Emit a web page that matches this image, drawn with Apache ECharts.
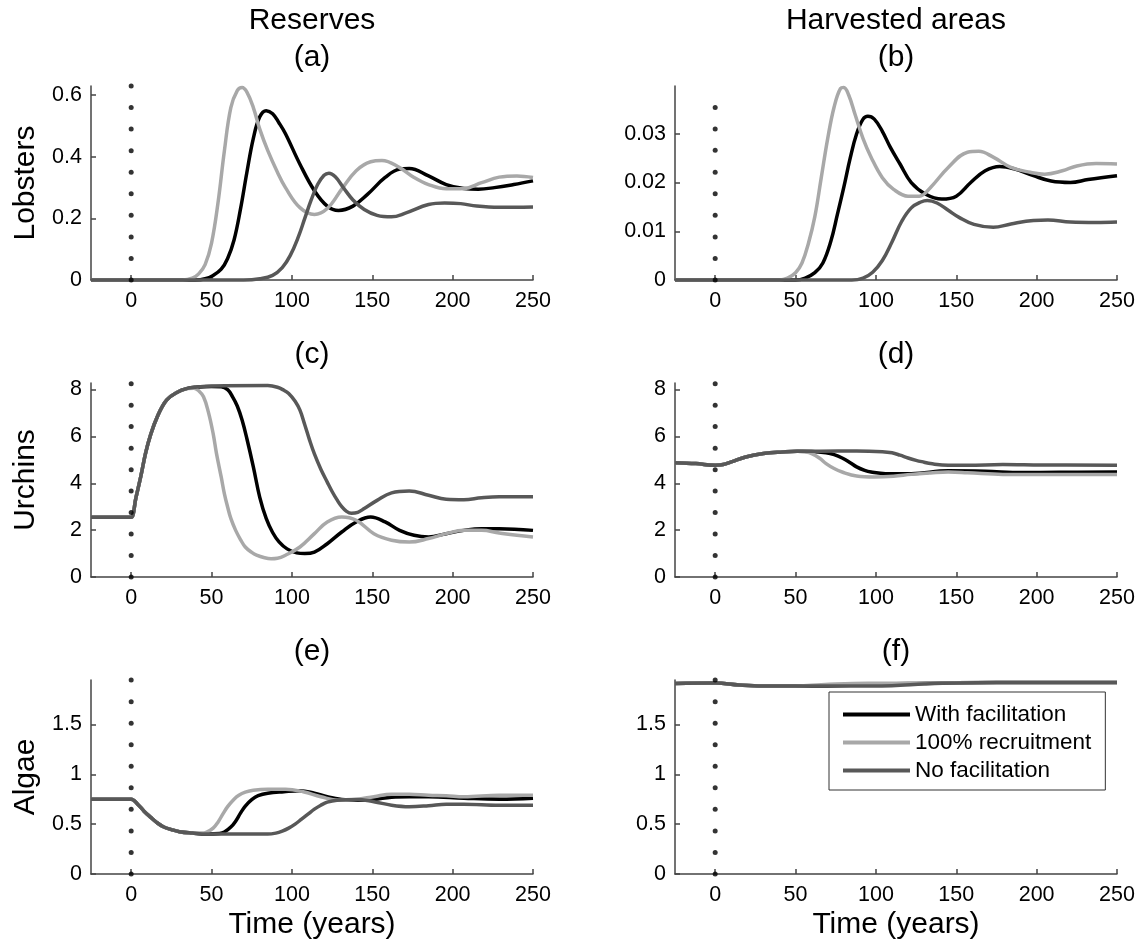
<!DOCTYPE html>
<html>
<head>
<meta charset="utf-8">
<script src="https://cdn.jsdelivr.net/npm/echarts@6/dist/echarts.min.js"></script>
<style>
html, body { margin: 0; padding: 0; background: #fff; }
#chart { width: 1140px; height: 944px; }
</style>
</head>
<body>
<div id="chart"></div>
<script>
// labels
const seriesNames = ['With facilitation', '100% recruitment', 'No facilitation'];
const columnTitles = ['Reserves', 'Harvested areas'];
const panelLabels = ['(a)', '(b)', '(c)', '(d)', '(e)', '(f)'];
const rowNames = ['Lobsters', 'Urchins', 'Algae'];

// tick labels
const xTicks = [0, 50, 100, 150, 200, 250];
const yTicksLobRes = [0, 0.2, 0.4, 0.6];
const yTicksLobHar = [0, 0.01, 0.02, 0.03];
const yTicksUrch = [0, 2, 4, 6, 8];
const yTicksAlg = [0, 0.5, 1, 1.5];

// (a) lobsters, reserves  [year, value]
const lobResWith = [[-25,0],[40,0],[46,0.004],[51,0.015],[56,0.035],[60,0.07],[64,0.13],[68,0.23],[72,0.35],[76,0.46],[80,0.53],[84,0.55],[88,0.54],[92,0.51],[96,0.475],[105,0.376],[114,0.29],[122,0.24],[129,0.226],[138,0.24],[147,0.278],[158,0.333],[167,0.36],[173,0.362],[185,0.338],[196,0.31],[207,0.297],[216,0.295],[226,0.3],[238,0.31],[250,0.322]];
const lobResFull = [[-25,0],[32,0],[38,0.006],[42,0.02],[46,0.05],[50,0.12],[54,0.25],[58,0.42],[62,0.56],[66,0.615],[69,0.625],[72,0.61],[76,0.56],[80,0.49],[85,0.42],[91,0.35],[96,0.30],[105,0.235],[114,0.213],[122,0.232],[131,0.295],[140,0.355],[149,0.384],[156,0.388],[167,0.365],[176,0.333],[185,0.31],[196,0.296],[207,0.297],[218,0.316],[229,0.334],[240,0.338],[250,0.333]];
const lobResNone = [[-25,0],[70,0],[80,0.004],[88,0.015],[94,0.04],[99,0.08],[104,0.14],[108,0.2],[112,0.26],[116,0.31],[120,0.34],[123,0.347],[127,0.335],[132,0.3],[138,0.26],[145,0.229],[153,0.21],[162,0.205],[171,0.218],[185,0.245],[195,0.25],[205,0.248],[215,0.24],[229,0.236],[250,0.237]];

// (b) lobsters, harvested areas
const lobHarWith = [[-25,0],[50,0],[56,0.0004],[62,0.0015],[67,0.0035],[72,0.008],[76,0.0134],[80,0.019],[84,0.025],[88,0.030],[92,0.033],[95,0.0336],[99,0.033],[104,0.0305],[109,0.0272],[115,0.0238],[122,0.020],[131,0.0176],[141,0.0166],[150,0.0172],[159,0.020],[168,0.0224],[177,0.0233],[186,0.0228],[198,0.0214],[209,0.0203],[221,0.020],[232,0.0206],[250,0.0214]];
const lobHarFull = [[-25,0],[40,0],[45,0.0004],[50,0.0015],[54,0.0035],[58,0.0075],[62,0.013],[66,0.021],[70,0.029],[74,0.0355],[78,0.0393],[80,0.0395],[83,0.038],[87,0.034],[92,0.029],[97,0.0252],[104,0.021],[111,0.0186],[120,0.0172],[127,0.0172],[134,0.019],[145,0.0231],[157,0.0262],[164,0.0264],[173,0.0252],[184,0.0231],[196,0.0221],[205,0.0217],[216,0.0224],[225,0.0234],[237,0.0239],[250,0.0238]];
const lobHarNone = [[-25,0],[85,0],[92,0.0004],[98,0.0016],[104,0.004],[110,0.0078],[116,0.012],[122,0.0148],[128,0.016],[132,0.0163],[138,0.0158],[145,0.0143],[152,0.0128],[161,0.0114],[173,0.0108],[184,0.0115],[198,0.0122],[207,0.0123],[221,0.0119],[237,0.0118],[250,0.0119]];

// (c) urchins, reserves
const urchResWith = [[-25,2.55],[-2,2.55],[0,2.55],[3,3.4],[6,4.3],[9,5.3],[12,6.05],[16,6.8],[22,7.55],[29,7.9],[35,8.05],[40,8.1],[50,8.13],[56,8.12],[60,8.0],[63,7.7],[66,7.3],[69,6.7],[72,5.9],[76,4.7],[80,3.4],[84,2.5],[88,1.9],[92,1.5],[97,1.2],[103,1.03],[108,1.0],[114,1.06],[122,1.42],[131,1.92],[140,2.35],[149,2.56],[158,2.35],[167,1.99],[176,1.78],[185,1.71],[196,1.85],[207,1.99],[218,2.06],[229,2.06],[250,1.99]];
const urchResFull = [[-25,2.55],[-2,2.55],[0,2.55],[3,3.4],[6,4.3],[9,5.3],[12,6.05],[16,6.8],[22,7.55],[29,7.9],[35,8.04],[39,8.06],[42,7.95],[45,7.69],[48,7.05],[51,6.12],[53,5.3],[56,4.27],[58,3.55],[60,2.99],[62,2.5],[65,1.99],[68,1.6],[71,1.28],[75,1.05],[78,0.93],[83,0.82],[87,0.78],[91,0.8],[96,0.93],[105,1.28],[114,1.85],[122,2.35],[131,2.56],[140,2.42],[151,1.85],[162,1.57],[173,1.49],[185,1.64],[196,1.85],[207,1.99],[218,1.99],[229,1.88],[240,1.78],[250,1.71]];
const urchResNone = [[-25,2.55],[-2,2.55],[0,2.55],[3,3.4],[6,4.3],[9,5.3],[12,6.05],[16,6.8],[22,7.55],[29,7.9],[35,8.05],[40,8.1],[51,8.15],[85,8.17],[91,8.1],[95,7.97],[98,7.83],[102,7.5],[105,7.12],[108,6.5],[111,5.84],[114,5.25],[118,4.6],[122,4.05],[125,3.65],[128,3.3],[131,3.0],[134,2.8],[137,2.72],[141,2.76],[145,2.92],[153,3.27],[162,3.59],[173,3.67],[185,3.49],[196,3.32],[207,3.3],[218,3.38],[229,3.42],[250,3.42]];

// (d) urchins, harvested areas
const urchHarWith = [[-25,4.88],[-12,4.84],[0,4.77],[5,4.8],[10,4.91],[19,5.12],[30,5.27],[42,5.34],[51,5.37],[60,5.36],[69,5.3],[74,5.22],[79,5.08],[84,4.88],[88,4.7],[93,4.55],[97,4.48],[106,4.41],[122,4.41],[145,4.53],[168,4.51],[191,4.46],[214,4.47],[250,4.48]];
const urchHarFull = [[-25,4.88],[-12,4.84],[0,4.77],[5,4.8],[10,4.91],[19,5.12],[30,5.27],[42,5.34],[51,5.37],[56,5.34],[60,5.27],[65,5.07],[69,4.84],[74,4.63],[79,4.48],[88,4.31],[99,4.27],[111,4.3],[122,4.38],[134,4.44],[145,4.48],[157,4.45],[179,4.38],[203,4.37],[225,4.38],[250,4.38]];
const urchHarNone = [[-25,4.88],[-12,4.84],[0,4.77],[5,4.8],[10,4.91],[19,5.12],[30,5.27],[42,5.34],[51,5.37],[65,5.37],[88,5.38],[104,5.35],[110,5.3],[115,5.2],[120,5.08],[125,4.98],[130,4.9],[134,4.84],[145,4.77],[157,4.77],[179,4.8],[203,4.78],[250,4.77]];

// (e) algae, reserves
const algResWith = [[-25,0.75],[-2,0.75],[0,0.75],[4,0.70],[8,0.63],[12,0.57],[16,0.515],[20,0.474],[25,0.445],[30,0.424],[38,0.41],[47,0.40],[55,0.405],[58,0.42],[62,0.47],[65,0.53],[68,0.61],[71,0.68],[75,0.745],[79,0.785],[85,0.81],[95,0.825],[105,0.835],[114,0.81],[122,0.775],[131,0.748],[140,0.74],[151,0.748],[162,0.77],[173,0.775],[185,0.775],[207,0.76],[229,0.75],[250,0.76]];
const algResFull = [[-25,0.75],[-2,0.75],[0,0.75],[4,0.70],[8,0.63],[12,0.57],[16,0.515],[20,0.474],[25,0.445],[30,0.424],[38,0.41],[44,0.41],[47,0.42],[51,0.46],[54,0.52],[57,0.6],[60,0.675],[64,0.75],[67,0.79],[71,0.82],[76,0.84],[85,0.85],[96,0.85],[107,0.825],[118,0.775],[129,0.74],[140,0.748],[151,0.775],[162,0.80],[173,0.80],[185,0.79],[196,0.785],[207,0.775],[229,0.79],[250,0.79]];
const algResNone = [[-25,0.75],[-2,0.75],[0,0.75],[4,0.70],[8,0.63],[12,0.57],[16,0.515],[20,0.474],[25,0.445],[30,0.424],[38,0.41],[47,0.40],[60,0.40],[85,0.40],[90,0.41],[94,0.43],[98,0.46],[102,0.5],[106,0.55],[110,0.6],[114,0.65],[118,0.69],[122,0.72],[128,0.74],[140,0.748],[151,0.725],[162,0.69],[173,0.675],[185,0.685],[196,0.70],[207,0.70],[229,0.69],[250,0.69]];

// (f) algae, harvested areas
const algHarWith = [[-25,1.91],[0,1.915],[15,1.895],[30,1.885],[60,1.885],[80,1.89],[100,1.905],[120,1.91],[150,1.918],[200,1.92],[250,1.92]];
const algHarFull = [[-25,1.91],[0,1.915],[15,1.895],[30,1.885],[55,1.888],[75,1.905],[95,1.912],[120,1.912],[150,1.918],[200,1.92],[250,1.92]];
const algHarNone = [[-25,1.91],[0,1.915],[15,1.895],[30,1.885],[80,1.885],[110,1.888],[130,1.905],[150,1.915],[200,1.92],[250,1.92]];

// dotted marker at year 0 (values of the dots)
const dotsLobRes = [0, 0.07, 0.14, 0.21, 0.28, 0.35, 0.42, 0.49, 0.56, 0.63];
const dotsLobHar = [0, 0.0044, 0.0088, 0.0133, 0.0177, 0.0221, 0.0266, 0.031, 0.0354];
const dotsUrch = [0, 0.92, 1.83, 2.75, 3.67, 4.58, 5.5, 6.42, 7.33, 8.25];
const dotsAlg = [0, 0.216, 0.432, 0.648, 0.864, 1.08, 1.296, 1.512, 1.728, 1.944];

const FONT = 'Liberation Sans';
const colors = ['#000000', '#a8a8a8', '#585858'];

const panels = [
    { lines: [lobResWith, lobResFull, lobResNone], dots: dotsLobRes, yMax: 0.63, yTicks: yTicksLobRes },
    { lines: [lobHarWith, lobHarFull, lobHarNone], dots: dotsLobHar, yMax: 0.0398, yTicks: yTicksLobHar },
    { lines: [urchResWith, urchResFull, urchResNone], dots: dotsUrch, yMax: 8.28, yTicks: yTicksUrch },
    { lines: [urchHarWith, urchHarFull, urchHarNone], dots: dotsUrch, yMax: 8.28, yTicks: yTicksUrch },
    { lines: [algResWith, algResFull, algResNone], dots: dotsAlg, yMax: 1.945, yTicks: yTicksAlg },
    { lines: [algHarWith, algHarFull, algHarNone], dots: dotsAlg, yMax: 1.945, yTicks: yTicksAlg }
];

const colLeft = [91, 675];
const rowTop = [86, 383, 680];
const plotW = 442;
const plotH = 194;

const axisLineStyle = { color: '#444', width: 1.5 };

const grid = [];
const xAxis = [];
const yAxis = [];
const series = [];
const title = [];

columnTitles.forEach((t, col) => {
    title.push({
        text: t, left: colLeft[col] + plotW / 2, top: 4, textAlign: 'center', padding: 0,
        textStyle: { fontSize: 30, fontWeight: 'normal', color: '#000', fontFamily: FONT, lineHeight: 34 }
    });
});

panels.forEach((p, i) => {
    const row = Math.floor(i / 2);
    const col = i % 2;

    grid.push({ left: colLeft[col], top: rowTop[row], width: plotW, height: plotH });

    title.push({
        text: panelLabels[i], left: colLeft[col] + plotW / 2, top: rowTop[row] - 45, textAlign: 'center', padding: 0,
        textStyle: { fontSize: 30, fontWeight: 'normal', color: '#000', fontFamily: FONT, lineHeight: 34 }
    });

    xAxis.push({
        type: 'value', gridIndex: i, min: -25, max: 250,
        name: row === 2 ? 'Time (years)' : '',
        nameLocation: 'middle', nameGap: 36,
        nameTextStyle: { fontSize: 30, color: '#000', fontFamily: FONT },
        axisLine: { onZero: false, lineStyle: axisLineStyle },
        axisTick: { inside: true, length: 5, customValues: xTicks, lineStyle: axisLineStyle },
        axisLabel: { customValues: xTicks, fontSize: 21.5, color: '#000', margin: 10, fontFamily: FONT },
        splitLine: { show: false }
    });

    yAxis.push({
        type: 'value', gridIndex: i, min: 0, max: p.yMax,
        name: col === 0 ? rowNames[row] : '',
        nameLocation: 'middle', nameGap: 50,
        nameTextStyle: { fontSize: 30, color: '#000', fontFamily: FONT },
        axisLine: { show: true, onZero: false, lineStyle: axisLineStyle },
        axisTick: { show: true, inside: true, length: 5, customValues: p.yTicks, lineStyle: axisLineStyle },
        axisLabel: { customValues: p.yTicks, fontSize: 21.5, color: '#000', margin: 9, fontFamily: FONT },
        splitLine: { show: false }
    });

    p.lines.forEach((d, k) => {
        series.push({
            name: seriesNames[k], type: 'line', xAxisIndex: i, yAxisIndex: i,
            data: d, smooth: 0.4, showSymbol: false, clip: false,
            color: colors[k],
            lineStyle: { color: colors[k], width: 3.5 },
            emphasis: { disabled: true }
        });
    });

    series.push({
        type: 'scatter', xAxisIndex: i, yAxisIndex: i,
        data: p.dots.map(v => [0, v]),
        symbol: 'circle', symbolSize: 5, clip: false, silent: true, z: 5,
        itemStyle: { color: '#000' }
    });
});

const option = {
    animation: false,
    backgroundColor: '#fff',
    textStyle: { fontFamily: FONT },
    title: title,
    legend: {
        data: seriesNames,
        orient: 'vertical',
        left: 829, top: 692,
        padding: [11, 14, 8, 14],
        itemGap: 5,
        itemWidth: 67, itemHeight: 4,
        icon: 'rect',
        backgroundColor: '#fff',
        borderColor: '#333', borderWidth: 1,
        textStyle: { fontSize: 22.5, color: '#000', fontFamily: FONT }
    },
    grid: grid,
    xAxis: xAxis,
    yAxis: yAxis,
    series: series
};

const chart = echarts.init(document.getElementById('chart'));
chart.setOption(option);
</script>
</body>
</html>
